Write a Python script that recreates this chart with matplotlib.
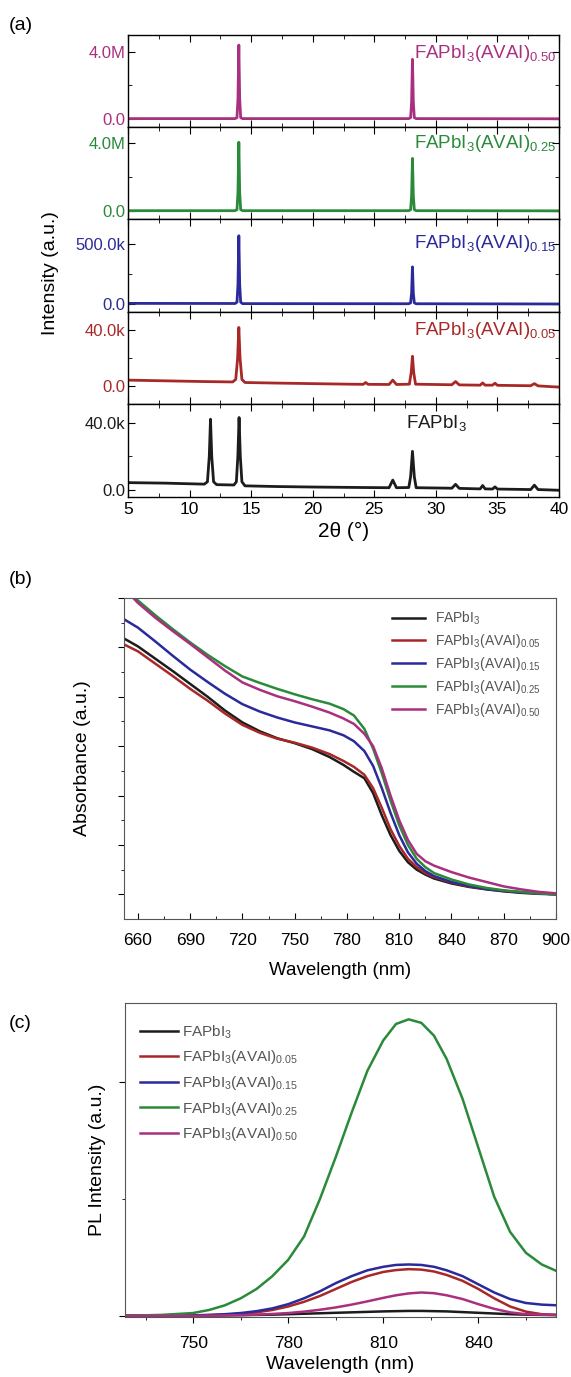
import matplotlib
matplotlib.use('Agg')
from matplotlib import pyplot as plt

plt.rcParams['font.family'] = ['Liberation Sans', 'DejaVu Sans']
plt.rcParams['mathtext.default'] = 'regular'

FIG_W, FIG_H = 571, 1377

# colours of the five compositions
c_ref = '#1c1c1c'
c_005 = '#a82828'
c_015 = '#2a2a9a'
c_025 = '#2a8a3a'
c_050 = '#a8307f'

# ---------- (a) XRD patterns ----------
tt_050 = [5, 13.7, 13.85, 13.93, 14.0, 14.07, 14.15, 14.3, 27.8, 27.95, 28.03, 28.1, 28.17, 28.25, 28.4, 40]
xrd_050 = [2e4, 2e4, 8e4, 1.2e6, 4.4e6, 1.2e6, 8e4, 2e4, 2e4, 8e4, 1.0e6, 3.55e6, 1.0e6, 8e4, 2e4, 1e4]

tt_025 = [5, 13.7, 13.85, 13.93, 14.0, 14.07, 14.15, 14.3, 27.8, 27.95, 28.03, 28.1, 28.17, 28.25, 28.4, 40]
xrd_025 = [2e4, 2e4, 8e4, 1.1e6, 4.05e6, 1.1e6, 8e4, 2e4, 2e4, 8e4, 0.9e6, 3.1e6, 0.9e6, 8e4, 2e4, 1e4]

tt_015 = [5, 13.7, 13.85, 13.93, 14.0, 14.07, 14.15, 14.3, 27.8, 27.95, 28.03, 28.1, 28.17, 28.25, 28.4, 40]
xrd_015 = [5e3, 4e3, 1.5e4, 1.6e5, 5.7e5, 1.6e5, 1.5e4, 3e3, 2e3, 1e4, 9e4, 3.1e5, 9e4, 1e4, 2e3, 0]

tt_005 = [5, 8, 11, 13.5, 13.75, 13.9, 14.0, 14.1, 14.25, 14.5, 17, 20, 23, 24.1, 24.3, 24.5,
          26.2, 26.5, 26.8, 27.85, 28.0, 28.1, 28.2, 28.35, 31.3, 31.6, 31.9, 33.6, 33.8, 34.0,
          34.6, 34.8, 35.0, 37.7, 38.0, 38.3, 40]
xrd_005 = [4.5e3, 4.0e3, 3.5e3, 3.2e3, 5e3, 2.0e4, 4.2e4, 2.0e4, 5e3, 2.8e3, 2.4e3, 2.0e3, 1.6e3, 1.5e3, 2.8e3, 1.5e3,
           1.4e3, 4.5e3, 1.4e3, 1.6e3, 1.0e4, 2.15e4, 1.0e4, 1.6e3, 1.2e3, 3.5e3, 1.1e3, 0.9e3, 2.5e3, 0.9e3,
           0.9e3, 2.3e3, 0.8e3, 0.5e3, 2.0e3, 0.4e3, -0.5e3]

tt_ref = [5, 8, 11.2, 11.45, 11.6, 11.7, 11.8, 11.95, 12.2, 13.6, 13.8, 13.92, 14.02, 14.12, 14.25, 14.5,
          17, 20, 24.2, 26.2, 26.5, 26.8, 27.8, 27.95, 28.1, 28.25, 28.4, 31.3, 31.6, 31.9,
          33.6, 33.8, 34.0, 34.6, 34.8, 35.0, 37.7, 38.0, 38.3, 40]
xrd_ref = [4.5e3, 4.2e3, 3.6e3, 5e3, 2.0e4, 4.2e4, 2.0e4, 5e3, 3.3e3, 3.1e3, 5e3, 2.0e4, 4.3e4, 2.0e4, 5e3, 2.6e3,
           2.2e3, 1.9e3, 1.6e3, 1.5e3, 6e3, 1.5e3, 1.6e3, 8e3, 2.3e4, 8e3, 1.5e3, 1.2e3, 3.5e3, 1.1e3,
           0.8e3, 2.8e3, 0.8e3, 0.7e3, 2.0e3, 0.7e3, 0.4e3, 3.0e3, 0.4e3, 0]

xrd_names = ['FAPbI$_3$(AVAI)$_{0.50}$', 'FAPbI$_3$(AVAI)$_{0.25}$', 'FAPbI$_3$(AVAI)$_{0.15}$',
             'FAPbI$_3$(AVAI)$_{0.05}$', 'FAPbI$_3$']
xrd_ticks = [(0, 4e6), (0, 4e6), (0, 5e5), (0, 4e4), (0, 4e4)]
xrd_ticklabels = [('0.0', '4.0M'), ('0.0', '4.0M'), ('0.0', '500.0k'), ('0.0', '40.0k'), ('0.0', '40.0k')]
xrd_ylims = [(-0.48e6, 5.0e6), (-0.47e6, 4.95e6), (-0.067e6, 0.71e6), (-12.5e3, 53e3), (-4e3, 51e3)]

# ---------- (b) absorbance ----------
wl_abs = [652, 660, 670, 680, 690, 700, 710, 720, 730, 740, 750, 760, 770, 778, 784, 790, 795,
          800, 805, 810, 815, 820, 825, 830, 840, 850, 860, 870, 880, 890, 900]
abs_ref = [5.68, 5.52, 5.27, 5.02, 4.76, 4.50, 4.22, 3.98, 3.80, 3.66, 3.56, 3.44, 3.28, 3.12, 2.98, 2.85, 2.55,
           2.10, 1.70, 1.38, 1.15, 1.00, 0.90, 0.82, 0.72, 0.65, 0.60, 0.56, 0.53, 0.51, 0.50]
abs_005 = [5.56, 5.42, 5.17, 4.92, 4.66, 4.42, 4.16, 3.93, 3.77, 3.65, 3.57, 3.47, 3.34, 3.20, 3.08, 2.92, 2.65,
           2.25, 1.82, 1.48, 1.22, 1.05, 0.93, 0.85, 0.74, 0.66, 0.61, 0.57, 0.54, 0.52, 0.50]
abs_015 = [6.07, 5.90, 5.62, 5.33, 5.05, 4.80, 4.56, 4.35, 4.20, 4.08, 3.98, 3.90, 3.82, 3.72, 3.60, 3.40, 3.10,
           2.65, 2.15, 1.70, 1.35, 1.12, 0.97, 0.87, 0.75, 0.67, 0.61, 0.57, 0.54, 0.52, 0.50]
abs_025 = [6.75, 6.45, 6.15, 5.87, 5.60, 5.35, 5.12, 4.91, 4.78, 4.66, 4.55, 4.45, 4.36, 4.25, 4.12, 3.85, 3.45,
           2.95, 2.40, 1.90, 1.50, 1.22, 1.05, 0.93, 0.80, 0.70, 0.63, 0.58, 0.55, 0.52, 0.50]
abs_050 = [6.70, 6.40, 6.10, 5.83, 5.57, 5.30, 5.03, 4.79, 4.64, 4.51, 4.41, 4.30, 4.18, 4.06, 3.95, 3.75, 3.50,
           3.05, 2.50, 2.00, 1.60, 1.32, 1.17, 1.08, 0.95, 0.84, 0.75, 0.66, 0.60, 0.55, 0.52]

# ---------- (c) photoluminescence ----------
wl_pl = [728, 740, 750, 755, 760, 765, 770, 775, 780, 785, 790, 795, 800, 805, 810, 814,
         818, 822, 826, 830, 835, 840, 845, 850, 855, 860, 865]
pl_ref = [0, 0, 0, 0.001, 0.002, 0.003, 0.004, 0.005, 0.007, 0.009, 0.011, 0.013, 0.015, 0.017, 0.019, 0.020,
          0.021, 0.021, 0.020, 0.019, 0.016, 0.013, 0.010, 0.007, 0.005, 0.004, 0.003]
pl_005 = [0, 0, 0.001, 0.003, 0.005, 0.009, 0.015, 0.025, 0.04, 0.06, 0.085, 0.115, 0.145, 0.17, 0.188, 0.196,
          0.200, 0.198, 0.19, 0.175, 0.15, 0.115, 0.075, 0.04, 0.018, 0.007, 0.004]
pl_015 = [0, 0, 0.002, 0.004, 0.007, 0.012, 0.02, 0.032, 0.05, 0.075, 0.105, 0.14, 0.17, 0.195, 0.21, 0.218,
          0.220, 0.218, 0.21, 0.195, 0.17, 0.135, 0.10, 0.072, 0.055, 0.048, 0.045]
pl_025 = [0, 0.004, 0.012, 0.025, 0.045, 0.075, 0.115, 0.17, 0.24, 0.34, 0.50, 0.68, 0.87, 1.05, 1.18, 1.25,
          1.27, 1.255, 1.20, 1.10, 0.93, 0.72, 0.51, 0.36, 0.27, 0.22, 0.19]
pl_050 = [0, 0, 0, 0.001, 0.002, 0.003, 0.005, 0.008, 0.012, 0.018, 0.026, 0.036, 0.048, 0.062, 0.077, 0.088,
          0.096, 0.10, 0.097, 0.088, 0.072, 0.05, 0.03, 0.015, 0.007, 0.005, 0.004]

names = ['FAPbI$_3$', 'FAPbI$_3$(AVAI)$_{0.05}$', 'FAPbI$_3$(AVAI)$_{0.15}$',
         'FAPbI$_3$(AVAI)$_{0.25}$', 'FAPbI$_3$(AVAI)$_{0.50}$']
colors = [c_ref, c_005, c_015, c_025, c_050]


def px_axes(fig, left, top, right, bottom):
    '''Adds an axes box given in pixel coordinates measured from the top left corner'''
    return fig.add_axes([left / FIG_W, 1 - bottom / FIG_H, (right - left) / FIG_W, (bottom - top) / FIG_H])


fig = plt.figure(figsize=(FIG_W / 100, FIG_H / 100), dpi=100)

# stacked XRD panels
xrd_x = [tt_050, tt_025, tt_015, tt_005, tt_ref]
xrd_y = [xrd_050, xrd_025, xrd_015, xrd_005, xrd_ref]
xrd_c = [c_050, c_025, c_015, c_005, c_ref]
edges = [35, 127, 219, 312, 404, 497]
label_y = [0.80, 0.82, 0.74, 0.80, 0.80]
for i in range(5):
    ax = px_axes(fig, 128, edges[i], 559, edges[i + 1])
    ax.plot(xrd_x[i], xrd_y[i], color=xrd_c[i], lw=2.0)
    ax.set_xlim(5, 40)
    ax.set_ylim(*xrd_ylims[i])
    ax.set_xticks(range(5, 41, 5))
    ax.set_xticks([7.5 + 5 * k for k in range(7)], minor=True)
    ax.set_yticks(xrd_ticks[i], xrd_ticklabels[i])
    ax.set_yticks([xrd_ticks[i][1] / 2], minor=True)
    ax.tick_params(which='both', direction='in', top=True, right=True, labelsize=12.5)
    ax.tick_params(which='major', length=5)
    ax.tick_params(which='minor', length=3)
    ax.tick_params(axis='y', labelcolor=xrd_c[i], labelsize=12, pad=2)
    for s in ax.spines.values():
        s.set_linewidth(1.0)
    if i < 4:
        ax.tick_params(labelbottom=False)
        ax.text(0.995, label_y[i], xrd_names[i], transform=ax.transAxes, ha='right', va='center',
                color=xrd_c[i], fontsize=13.5)
    else:
        ax.text(0.645, label_y[i], xrd_names[i], transform=ax.transAxes, ha='left', va='center',
                color=xrd_c[i], fontsize=13.5)
        ax.set_xlabel('2θ (°)', fontsize=15, labelpad=4)

fig.text(51 / FIG_W, 1 - 273 / FIG_H, 'Intensity (a.u.)', rotation=90, ha='center', va='center', fontsize=14)
fig.text(9 / FIG_W, 1 - 26 / FIG_H, '(a)', fontsize=14, va='center')

# absorbance panel
axb = px_axes(fig, 124, 598, 556, 919)
for y, c, n in zip([abs_ref, abs_005, abs_015, abs_025, abs_050], colors, names):
    axb.plot(wl_abs, y, color=c, lw=1.8, label=n)
axb.set_xlim(652, 900)
axb.set_ylim(0, 6.5)
axb.set_xticks(range(660, 901, 30))
axb.set_xticks(range(675, 900, 30), minor=True)
axb.set_yticks([0.5 + k for k in range(7)], [])
axb.set_yticks([1.0 + k for k in range(6)], minor=True)
axb.tick_params(axis='x', which='both', direction='in', labelsize=12.5, pad=10)
axb.tick_params(axis='y', which='both', direction='out')
axb.tick_params(which='major', length=4)
axb.tick_params(which='minor', length=2.5)
for s in axb.spines.values():
    s.set_color('#555555')
axb.set_xlabel('Wavelength (nm)', fontsize=13.5, labelpad=10)
axb.set_ylabel('Absorbance (a.u.)', fontsize=14, labelpad=16)
axb.legend(loc='upper left', bbox_to_anchor=(0.62, 0.963), frameon=False, fontsize=10,
           borderpad=0, borderaxespad=0, handlelength=2.4, handletextpad=0.7,
           labelspacing=0.35, labelcolor='#555555')
fig.text(9 / FIG_W, 1 - 580 / FIG_H, '(b)', fontsize=14, va='center')

# PL panel
axc = px_axes(fig, 125, 1003, 556, 1317)
for y, c, n in zip([pl_ref, pl_005, pl_015, pl_025, pl_050], colors, names):
    axc.plot(wl_pl, y, color=c, lw=1.8, label=n)
axc.set_xlim(728.5, 864.5)
axc.set_ylim(-0.005, 1.34)
axc.set_xticks(range(750, 861, 30))
axc.set_xticks(range(735, 865, 30), minor=True)
axc.set_yticks([0, 1], [])
axc.set_yticks([0.5], minor=True)
axc.tick_params(which='both', direction='out', labelsize=12.5)
axc.tick_params(axis='x', pad=10)
axc.tick_params(which='major', length=4)
axc.tick_params(which='minor', length=2.5)
for s in axc.spines.values():
    s.set_color('#555555')
axc.set_xlabel('Wavelength (nm)', fontsize=14, labelpad=3)
axc.set_ylabel('PL Intensity (a.u.)', fontsize=14, labelpad=6)
axc.legend(loc='upper left', bbox_to_anchor=(0.035, 0.935), frameon=False, fontsize=11,
           borderpad=0, borderaxespad=0, handlelength=2.5, handletextpad=0.25,
           labelspacing=0.5, labelcolor='#555555')
fig.text(9 / FIG_W, 1 - 1024 / FIG_H, '(c)', fontsize=14, va='center')

fig.savefig('out.png', dpi=100)
